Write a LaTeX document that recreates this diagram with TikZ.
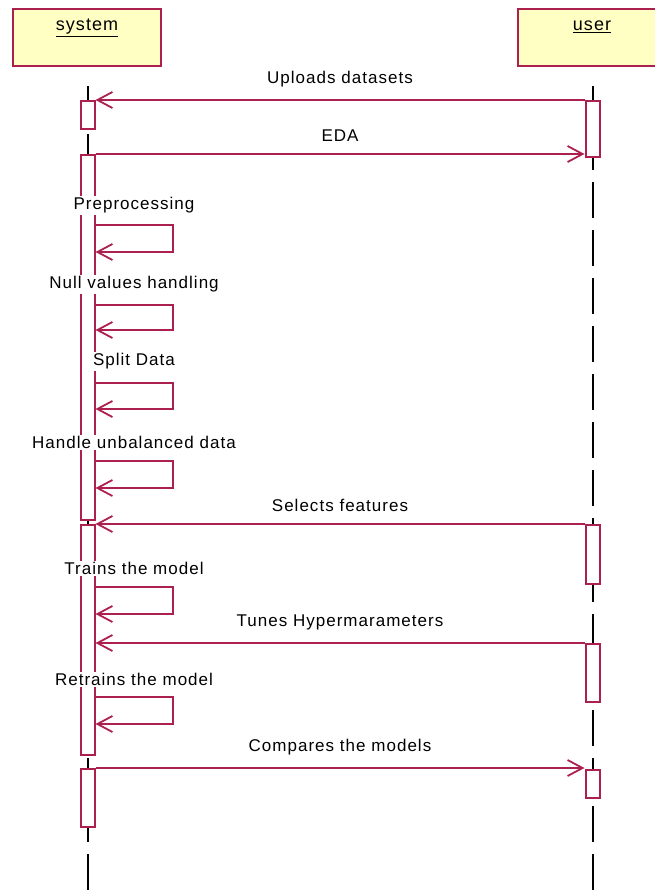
\documentclass[tikz,border=0pt]{standalone}
\usepackage{fontspec}
\setmainfont[LetterSpace=6]{Liberation Sans}
\usetikzlibrary{arrows.meta,positioning}
\definecolor{umlred}{RGB}{172,32,78}
\definecolor{umlyellow}{RGB}{255,255,196}

\begin{document}
\begin{tikzpicture}[x=1pt,y=-1pt,
	head/.style={draw=umlred,fill=umlyellow,line width=2pt,minimum width=148pt,minimum height=57pt,anchor=north},
	headtxt/.style={font=\fontsize{18}{20}\selectfont,text height=13pt,text depth=4pt,inner sep=1.5pt},
	bar/.style={draw=umlred,fill=white,line width=2pt,minimum width=14pt,inner sep=0pt,anchor=north},
	msg/.style={draw=umlred,line width=2pt,-{Straight Barb[length=15pt,width=16pt,line width=1.8pt]}},
	lbl/.style={fill=white,inner sep=1.5pt,font=\fontsize{17}{20}\selectfont},
	life/.style={line width=2pt,dash pattern=on 36pt off 12pt}]
	\useasboundingbox (0,0) rectangle (655,892);
	% lifelines
	\draw (87.5,86) coordinate (s0) (592.5,86) coordinate (u0);
	\draw[life] (s0) -- ++(0,806) coordinate (s1);
	\draw[life] (u0) -- ++(0,806) coordinate (u1);
	% heads
	\node[head] (sys) at (87,8) {};
	\node[head] (usr) at (592,8) {};
	\node[headtxt,below=8pt of sys.north] (systxt) {\underline{system}};
	\node[headtxt,below=8pt of usr.north] (usrtxt) {\underline{user}};
	% activations
	\node[bar,minimum height=28pt] (sa1) at (87.5,100) {};
	\node[bar,minimum height=365pt] (sa2) at (87.5,154) {};
	\node[bar,minimum height=230pt] (sa3) at (87.5,524) {};
	\node[bar,minimum height=58pt] (sa4) at (87.5,768) {};
	\node[bar,minimum height=56pt] (ua1) at (592.5,100) {};
	\node[bar,minimum height=59pt] (ua2) at (592.5,524) {};
	\node[bar,minimum height=58pt] (ua3) at (592.5,643) {};
	\node[bar,minimum height=28pt] (ua4) at (592.5,769) {};
	% messages
	\draw[msg] (ua1.north west) -- (sa1.north east) node[lbl,midway,above=10pt] {Uploads datasets};
	\draw[msg] (sa2.north east) -- (sa2.north east -| ua1.west) node[lbl,midway,above=10pt] {EDA};
	\draw[msg] (sa2.east |- 0,225) -- ++(77,0) node[lbl,midway,above=9pt] {Preprocessing} -- ++(0,27) -- ++(-77,0);
	\draw[msg] (sa2.east |- 0,305) -- ++(77,0) node[lbl,midway,above=10pt] {Null values handling} -- ++(0,25) -- ++(-77,0);
	\draw[msg] (sa2.east |- 0,383) -- ++(77,0) node[lbl,midway,above=11pt] {Split Data} -- ++(0,26) -- ++(-77,0);
	\draw[msg] (sa2.east |- 0,461) -- ++(77,0) node[lbl,midway,above=10pt] {Handle unbalanced data} -- ++(0,27) -- ++(-77,0);
	\draw[msg] (ua2.north west) -- (sa3.north east) node[lbl,midway,above=10pt] {Selects features};
	\draw[msg] (sa3.east |- 0,587) -- ++(77,0) node[lbl,midway,above=10pt] {Trains the model} -- ++(0,27) -- ++(-77,0);
	\draw[msg] (ua3.north west) -- (ua3.north west -| sa3.east) node[lbl,midway,above=10pt] {Tunes Hypermarameters};
	\draw[msg] (sa3.east |- 0,697) -- ++(77,0) node[lbl,midway,above=9pt] {Retrains the model} -- ++(0,27) -- ++(-77,0);
	\draw[msg] (sa4.north east) -- (sa4.north east -| ua4.west) node[lbl,midway,above=10pt] {Compares the models};
\end{tikzpicture}
\end{document}
